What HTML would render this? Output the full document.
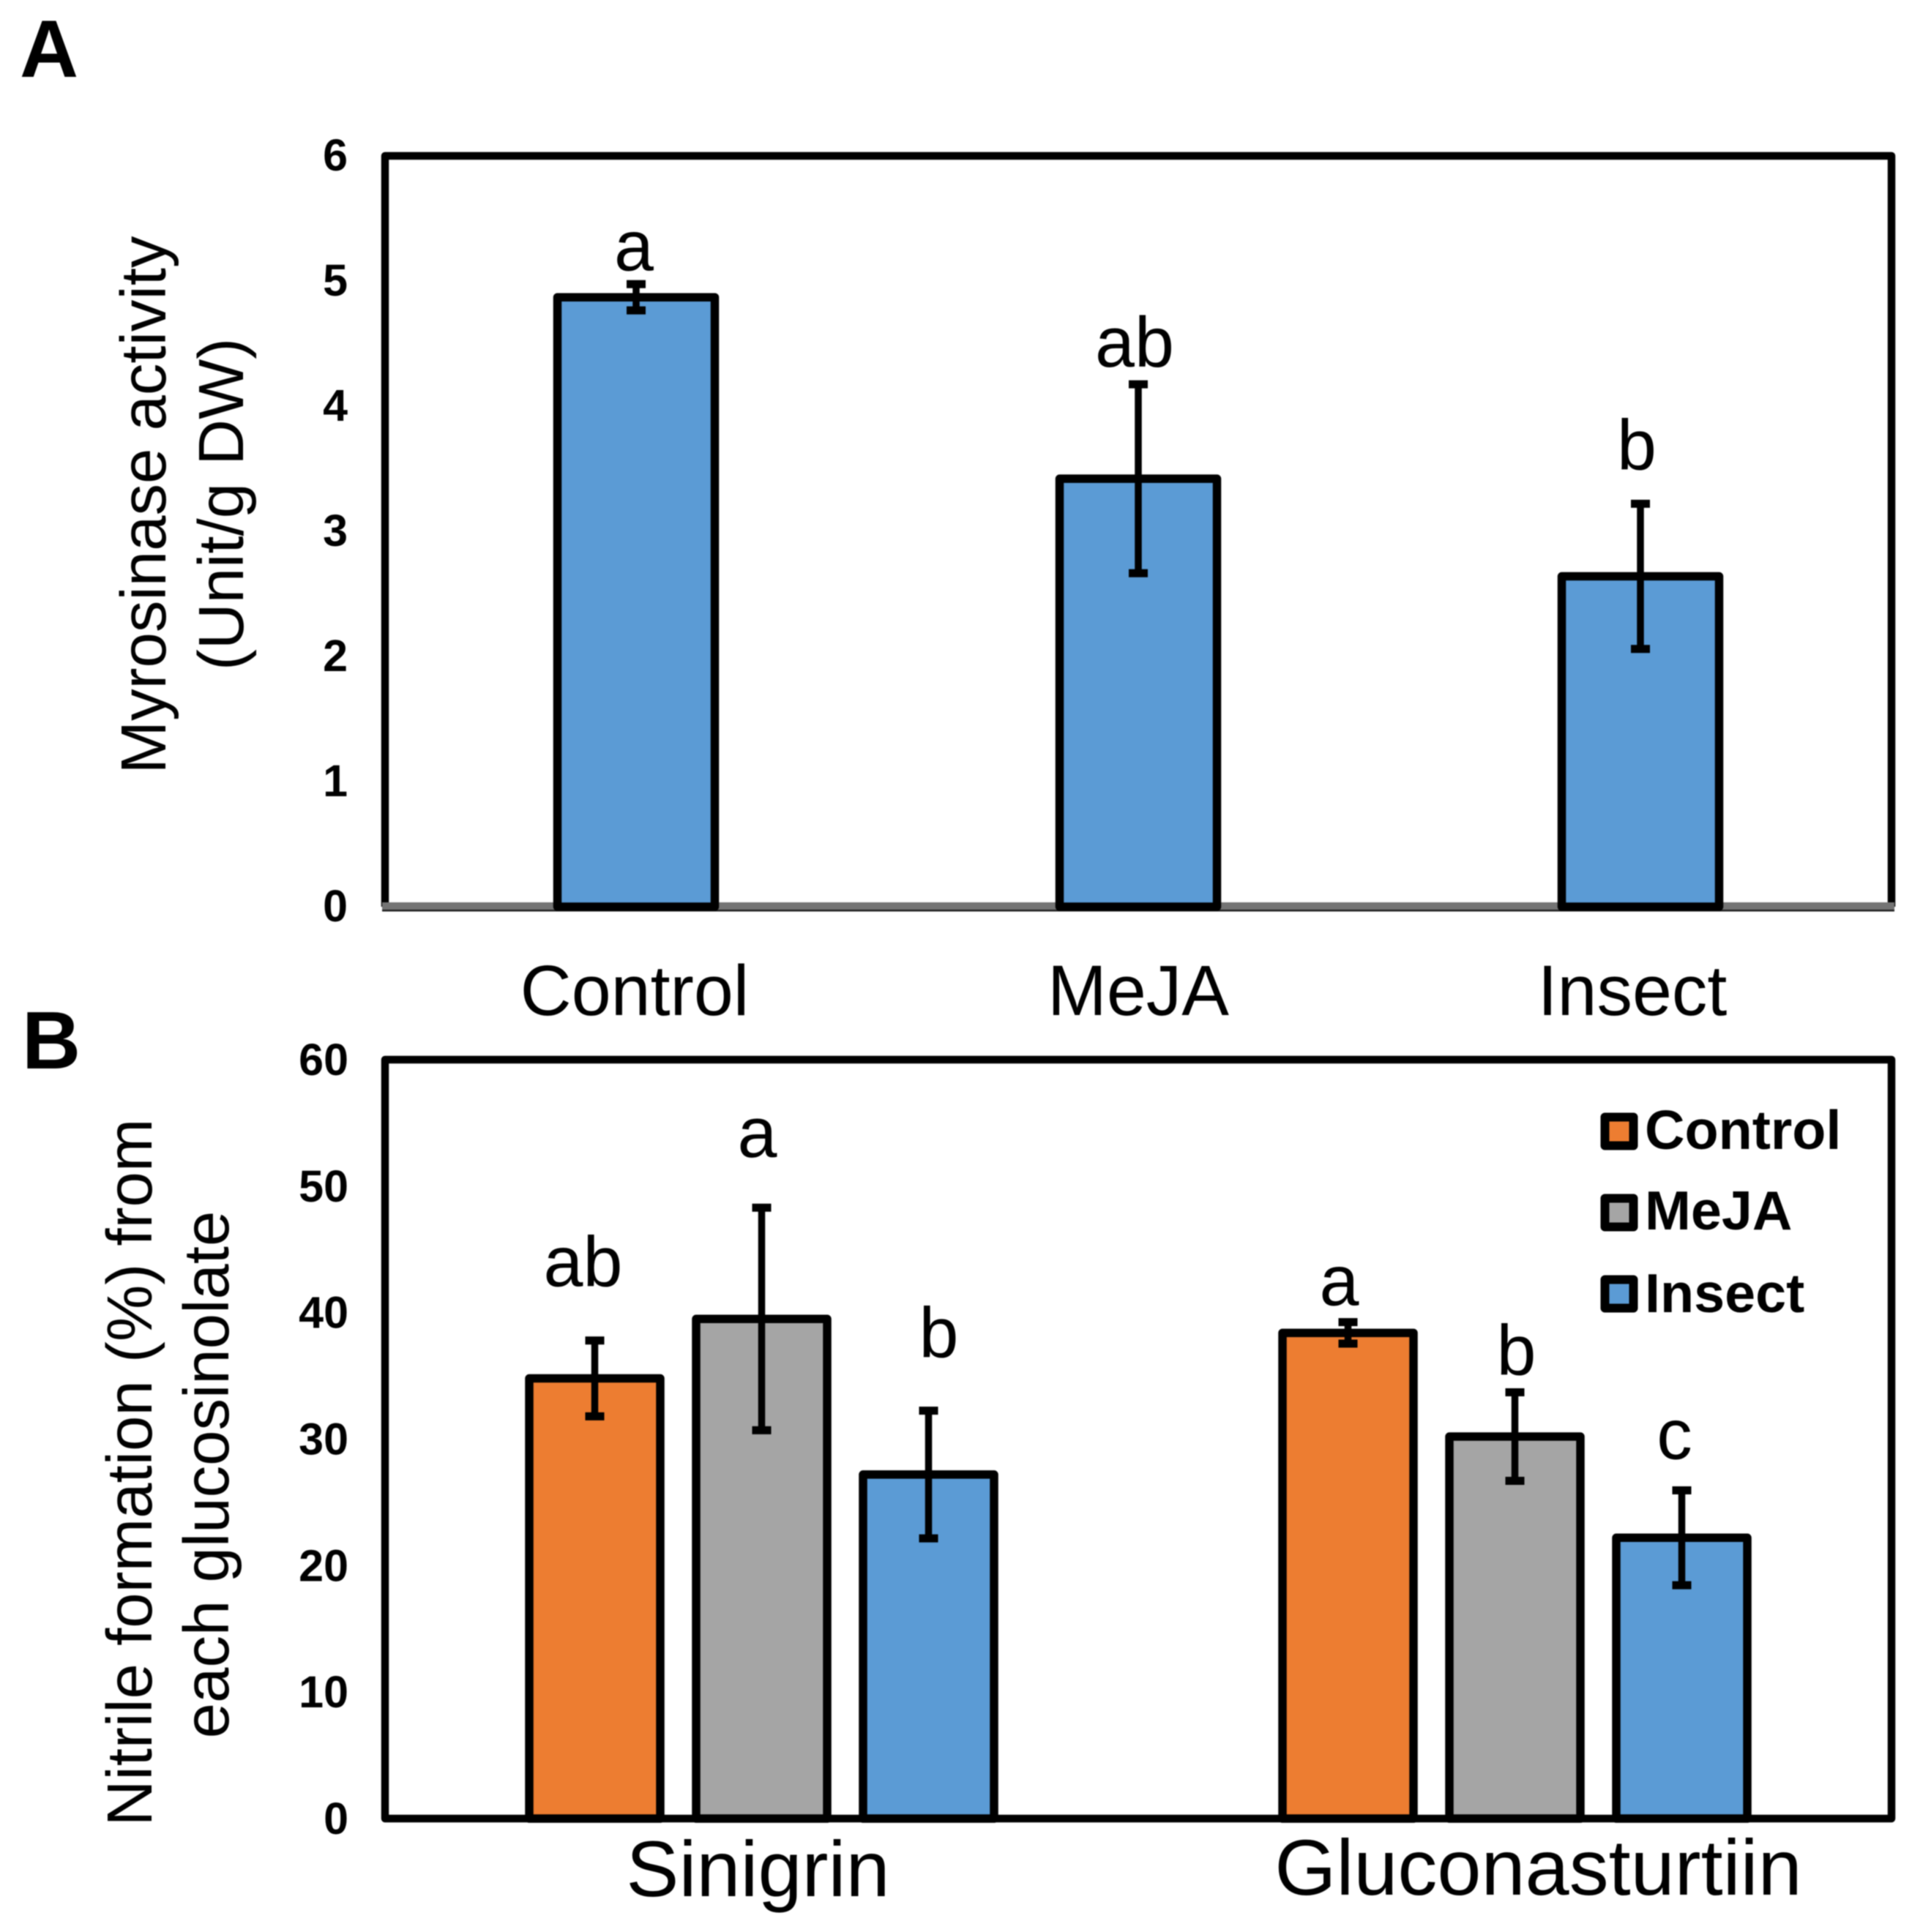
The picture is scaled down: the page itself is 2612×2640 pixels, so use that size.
<!DOCTYPE html>
<html lang="en">
<head>
<meta charset="utf-8">
<title>Myrosinase activity and nitrile formation</title>
<style>
html,body{margin:0;padding:0;background:#fff;}
svg{display:block;filter:blur(0.9px);}
text{font-family:"Liberation Sans",sans-serif;fill:#000;}
.tick{font-size:61px;font-weight:bold;text-anchor:end;}
.title{font-size:87px;text-anchor:middle;}
.cat{font-size:97px;text-anchor:middle;}
.sig{font-size:97px;text-anchor:middle;}
.panel{font-size:111px;font-weight:bold;}
.leg{font-size:75.5px;font-weight:bold;}
</style>
</head>
<body>
<svg id="fig" xmlns="http://www.w3.org/2000/svg" width="2612" height="2640" viewBox="0 0 2612 2640">
  <rect x="0" y="0" width="2612" height="2640" fill="#fff"/>
  <text class="panel" x="27" y="105">A</text>
  <text class="panel" x="30" y="1460">B</text>

  <g id="chartA"></g>
  <g id="chartB"></g>

  <text class="title" transform="translate(226,690) rotate(-90)">Myrosinase activity</text>
  <text class="title" transform="translate(332,689) rotate(-90)">(Unit/g DW)</text>
  <text class="title" transform="translate(207,2012) rotate(-90)">Nitrile formation (%) from</text>
  <text class="title" transform="translate(312,2015) rotate(-90)">each glucosinolate</text>

  <g>
    <rect x="2192.5" y="1526.5" width="39" height="39" fill="#ED7D31" stroke="#000" stroke-width="12" stroke-linejoin="round"/>
    <text class="leg" x="2247" y="1570">Control</text>
    <rect x="2192.5" y="1637.5" width="39" height="39" fill="#A5A5A5" stroke="#000" stroke-width="12" stroke-linejoin="round"/>
    <text class="leg" x="2247" y="1680">MeJA</text>
    <rect x="2192.5" y="1748.5" width="39" height="39" fill="#5B9BD5" stroke="#000" stroke-width="12" stroke-linejoin="round"/>
    <text class="leg" x="2247" y="1793">Insect</text>
  </g>
</svg>
<script>
// Panel A data
const categoriesA = ["Control", "MeJA", "Insect"];
const valuesA = [4.87, 3.42, 2.64];
const errorsA = [0.105, 0.755, 0.58];
const lettersA = ["a", "ab", "b"];
const ticksA = [0, 1, 2, 3, 4, 5, 6];

// Panel B data
const categoriesB = ["Sinigrin", "Gluconasturtiin"];
const controlValuesB = [34.8, 38.4];
const mejaValuesB = [39.5, 30.2];
const insectValuesB = [27.2, 22.2];
const controlErrorsB = [3.0, 0.85];
const mejaErrorsB = [8.8, 3.5];
const insectErrorsB = [5.05, 3.75];
const controlLettersB = ["ab", "a"];
const mejaLettersB = ["a", "b"];
const insectLettersB = ["b", "c"];
const ticksB = [0, 10, 20, 30, 40, 50, 60];

const NS = "http://www.w3.org/2000/svg";
function mk(parent, tag, attrs, txt) {
  const el = document.createElementNS(NS, tag);
  for (const k in attrs) el.setAttribute(k, attrs[k]);
  if (txt !== undefined) el.textContent = txt;
  parent.appendChild(el);
  return el;
}

// Shared plot box
const plotLeft = 526, plotRight = 2584;

// Axis functions
const yA = v => 1239 - (v / 6) * (1239 - 213);
const yB = v => 2485 - (v / 60) * (2485 - 1448);
const xA = i => plotLeft + (i + 0.5) * (plotRight - plotLeft) / categoriesA.length;
const xB = i => plotLeft + (i + 0.5) * (plotRight - plotLeft) / categoriesB.length;

function drawError(g, cx, yTop, yBot, name) {
  const line = mk(g, "line", {x1: cx, x2: cx, y1: yTop, y2: yBot, stroke: "#000", "stroke-width": 9.5});
  
  
  const capT = mk(g, "line", {x1: cx - 13, x2: cx + 13, y1: yTop, y2: yTop, stroke: "#000", "stroke-width": 11});
  
  
  const capB = mk(g, "line", {x1: cx - 13, x2: cx + 13, y1: yBot, y2: yBot, stroke: "#000", "stroke-width": 11});
  
  
}

function drawBar(g, cx, w, y, y0, fill, name) {
  const r = mk(g, "rect", {x: cx - w / 2, y: y, width: w, height: y0 - y, fill: fill, stroke: "#000", "stroke-width": 11.5, "stroke-linejoin": "round"});
  
  
}

function drawA() {
  const g = document.getElementById("chartA");
  const frame = mk(g, "path", {d: `M${plotLeft} ${yA(0)}V${yA(6)}H${plotRight}V${yA(0)}`, fill: "none", stroke: "#000", "stroke-width": 10.5, "stroke-linejoin": "round"});
  
  
  const axis = mk(g, "rect", {x: plotLeft - 4, y: yA(0) - 6, width: plotRight - plotLeft + 8, height: 12, fill: "#747474"});
  
  
  const axisEdge = mk(g, "rect", {x: plotLeft - 4, y: yA(0) + 4, width: plotRight - plotLeft + 8, height: 2.5, fill: "#222"});
  
  

  ticksA.forEach(t => {
    const el = mk(g, "text", {class: "tick", x: 475, y: yA(t) + 20}, t);
    
    
  });

  const gap = [19, 24, 47];
  const nudge = [-3, -5, -5];
  const labelNudge = [-2, 0, -11];
  categoriesA.forEach((c, i) => {
    const cx = xA(i), name = 'bar-a-' + c.toLowerCase();
    drawBar(g, cx, 215, yA(valuesA[i]), yA(0), "#5B9BD5", name);
    drawError(g, cx, yA(valuesA[i] + errorsA[i]), yA(valuesA[i] - errorsA[i]), name);
    const s = mk(g, "text", {class: "sig", x: cx + nudge[i], y: yA(valuesA[i] + errorsA[i]) - gap[i]}, lettersA[i]);
    
    
    const l = mk(g, "text", {class: "cat", x: cx + labelNudge[i], y: 1387}, c);
    
    
  });
}

function drawB() {
  const g = document.getElementById("chartB");
  const frame = mk(g, "rect", {x: plotLeft, y: yB(60), width: plotRight - plotLeft, height: yB(0) - yB(60), fill: "none", stroke: "#000", "stroke-width": 10.5, "stroke-linejoin": "round"});
  
  

  ticksB.forEach(t => {
    const el = mk(g, "text", {class: "tick", x: 476, y: yB(t) + 21}, t);
    
    
  });

  const seriesNames = ["control", "meja", "insect"];
  const fills = ["#ED7D31", "#A5A5A5", "#5B9BD5"];
  const seriesValues = [controlValuesB, mejaValuesB, insectValuesB];
  const seriesErrors = [controlErrorsB, mejaErrorsB, insectErrorsB];
  const seriesLetters = [controlLettersB, mejaLettersB, insectLettersB];
  const gap = [[74, 23], [69, 24], [73, 43]];
  const nudge = [[-16, -12], [-6, 2], [14, -10]];
  const labelNudge = [-5, 32];
  const labelBase = [2591, 2589];

  categoriesB.forEach((c, i) => {
    seriesNames.forEach((sn, k) => {
      const cx = xB(i) + (k - 1) * 228, v = seriesValues[k][i], e = seriesErrors[k][i];
      const name = 'bar-b-' + c.toLowerCase() + '-' + sn;
      drawBar(g, cx, 179, yB(v), yB(0), fills[k], name);
      drawError(g, cx, yB(v + e), yB(v - e), name);
      const s = mk(g, "text", {class: "sig", x: cx + nudge[k][i], y: yB(v + e) - gap[k][i]}, seriesLetters[k][i]);
      
      
    });
    const l = mk(g, "text", {class: "cat", x: xB(i) + labelNudge[i], y: labelBase[i], style: "font-size:108px"}, c);
    
    
  });
}

drawA();
drawB();
</script>
</body>
</html>
